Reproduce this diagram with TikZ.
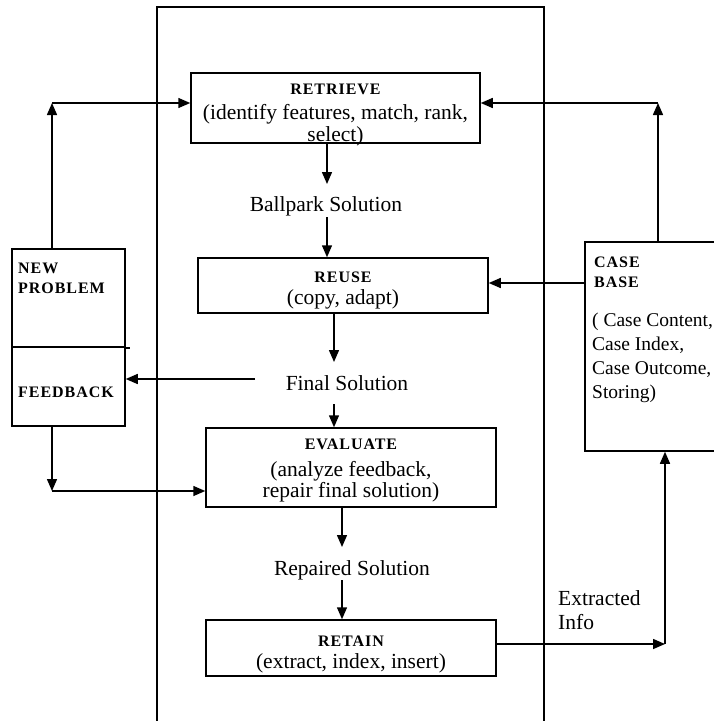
\documentclass[tikz,border=0pt]{standalone}
\usepackage{fontspec}
\setmainfont{Liberation Serif}
\newfontfamily\ttlfont[LetterSpace=6]{Liberation Serif}
\usetikzlibrary{arrows.meta}

\tikzset{
  ln/.style={line width=1.5pt},
  arr/.style={ln, -{Triangle[length=12pt,width=10pt]}},
  stagebox/.style={draw, ln, inner sep=0pt, fill=none},
  ttl/.style={inner sep=0pt, font=\ttlfont\bfseries\fontsize{16}{18}\selectfont},
  txt/.style={inner sep=0pt, font=\fontsize{21.5}{24}\selectfont},
  smalltxt/.style={inner sep=0pt, font=\fontsize{19.5}{22}\selectfont},
}

\begin{document}
\begin{tikzpicture}[x=1pt, y=-1pt]
  \useasboundingbox (0,0) rectangle (714,721);
  \fill[white] (0,0) rectangle (714,721);
  \clip (0,0) rectangle (714,721);

  % central frame around the four stages
  \draw[ln] (157,725) -- (157,7) -- (544,7) -- (544,725);

  % stage boxes
  \node[stagebox, minimum width=289pt, minimum height=70pt] (retrieve) at (335.5,108) {};
  \node[stagebox, minimum width=290pt, minimum height=55pt] (reuse) at (343,285.5) {};
  \node[stagebox, minimum width=290pt, minimum height=79pt] (evaluate) at (351,467.5) {};
  \node[stagebox, minimum width=290pt, minimum height=56pt] (retain) at (351,648) {};

  % side boxes
  \node[stagebox, minimum width=113pt, minimum height=98pt] (newproblem) at (68.5,298) {};
  \node[stagebox, minimum width=113pt, minimum height=79pt] (feedback) at (68.5,386.5) {};
  \draw[ln] (newproblem.south east) -- ++(4,0);
  \node[stagebox, minimum width=160pt, minimum height=209pt] (casebase) at (665,346.5) {};

  % stage texts
  \node[ttl, anchor=base] (rt1) at (335.5,94) {RETRIEVE};
  \node[txt, anchor=base] (rt2) at (335.5,119) {(identify features, match, rank,};
  \node[txt, anchor=base] (rt3) at (335.5,141) {select)};

  \node[ttl, anchor=base] (ru1) at (343,282) {REUSE};
  \node[txt, anchor=base] (ru2) at (343,304) {(copy, adapt)};

  \node[ttl, anchor=base] (ev1) at (351,449) {EVALUATE};
  \node[txt, anchor=base] (ev2) at (351,476) {(analyze feedback,};
  \node[txt, anchor=base] (ev3) at (351,497) {repair final solution)};

  \node[ttl, anchor=base] (ra1) at (351,646) {RETAIN};
  \node[txt, anchor=base] (ra2) at (351,668) {(extract, index, insert)};

  % intermediate results
  \node[txt, anchor=base] (ballpark) at (326,211) {Ballpark Solution};
  \node[txt, anchor=base] (final) at (347,390) {Final Solution};
  \node[txt, anchor=base] (repaired) at (352,575) {Repaired Solution};

  % side texts
  \node[ttl, anchor=base west] (np1) at (18,273) {NEW};
  \node[ttl, anchor=base west] (np2) at (18,293) {PROBLEM};
  \node[ttl, anchor=base west] (fb1) at (18,397) {FEEDBACK};

  \node[ttl, anchor=base west] (cb1) at (594,267) {CASE};
  \node[ttl, anchor=base west] (cb2) at (594,287) {BASE};
  \node[smalltxt, anchor=base west] (cb3) at (592,326) {( Case Content,};
  \node[smalltxt, anchor=base west] (cb4) at (592,350) {Case Index,};
  \node[smalltxt, anchor=base west] (cb5) at (592,374) {Case Outcome,};
  \node[smalltxt, anchor=base west] (cb6) at (592,398) {Storing)};

  \node[txt, anchor=base west] (ex1) at (558,605) {Extracted};
  \node[txt, anchor=base west] (ex2) at (558,629) {Info};

  % connector ends and corners
  \coordinate (bpTop) at (327,184);
  \coordinate (bpBot) at (327,217);
  \coordinate (fsTop) at (334,362);
  \coordinate (fsBot) at (334,404);
  \coordinate (fsLeft) at (255,379);
  \coordinate (rsTop) at (342,547);
  \coordinate (rsBot) at (342,580);
  \coordinate (npCorner) at (52,103);
  \coordinate (cbCorner) at (658,103);
  \coordinate (fbCorner) at (52,491);
  \coordinate (raCorner) at (665,644);
  \coordinate (cbLeft) at (585,283);

  % main flow
  \draw[arr] (retrieve.south -| bpTop) -- (bpTop);
  \draw[arr] (bpBot) -- (reuse.north -| bpBot);
  \draw[arr] (reuse.south -| fsTop) -- (fsTop);
  \draw[arr] (fsBot) -- (evaluate.north -| fsBot);
  \draw[arr] (evaluate.south -| rsTop) -- (rsTop);
  \draw[arr] (rsBot) -- (retain.north -| rsBot);

  % new problem into retrieve
  \draw[arr] (newproblem.north -| npCorner) -- (npCorner);
  \draw[arr] (npCorner) -- (npCorner -| retrieve.west);

  % case base into retrieve and reuse
  \draw[arr] (casebase.north -| cbCorner) -- (cbCorner);
  \draw[arr] (cbCorner) -- (cbCorner -| retrieve.east);
  \draw[arr] (cbLeft) -- (cbLeft -| reuse.east);

  % final solution to feedback, feedback into evaluate
  \draw[arr] (fsLeft) -- (fsLeft -| feedback.east);
  \draw[arr] (feedback.south -| fbCorner) -- (fbCorner);
  \draw[arr] (fbCorner) -- (fbCorner -| evaluate.west);

  % retain back to case base
  \draw[arr] (retain.east |- raCorner) -- (raCorner);
  \draw[arr] (raCorner) -- (casebase.south -| raCorner);
\end{tikzpicture}
\end{document}
